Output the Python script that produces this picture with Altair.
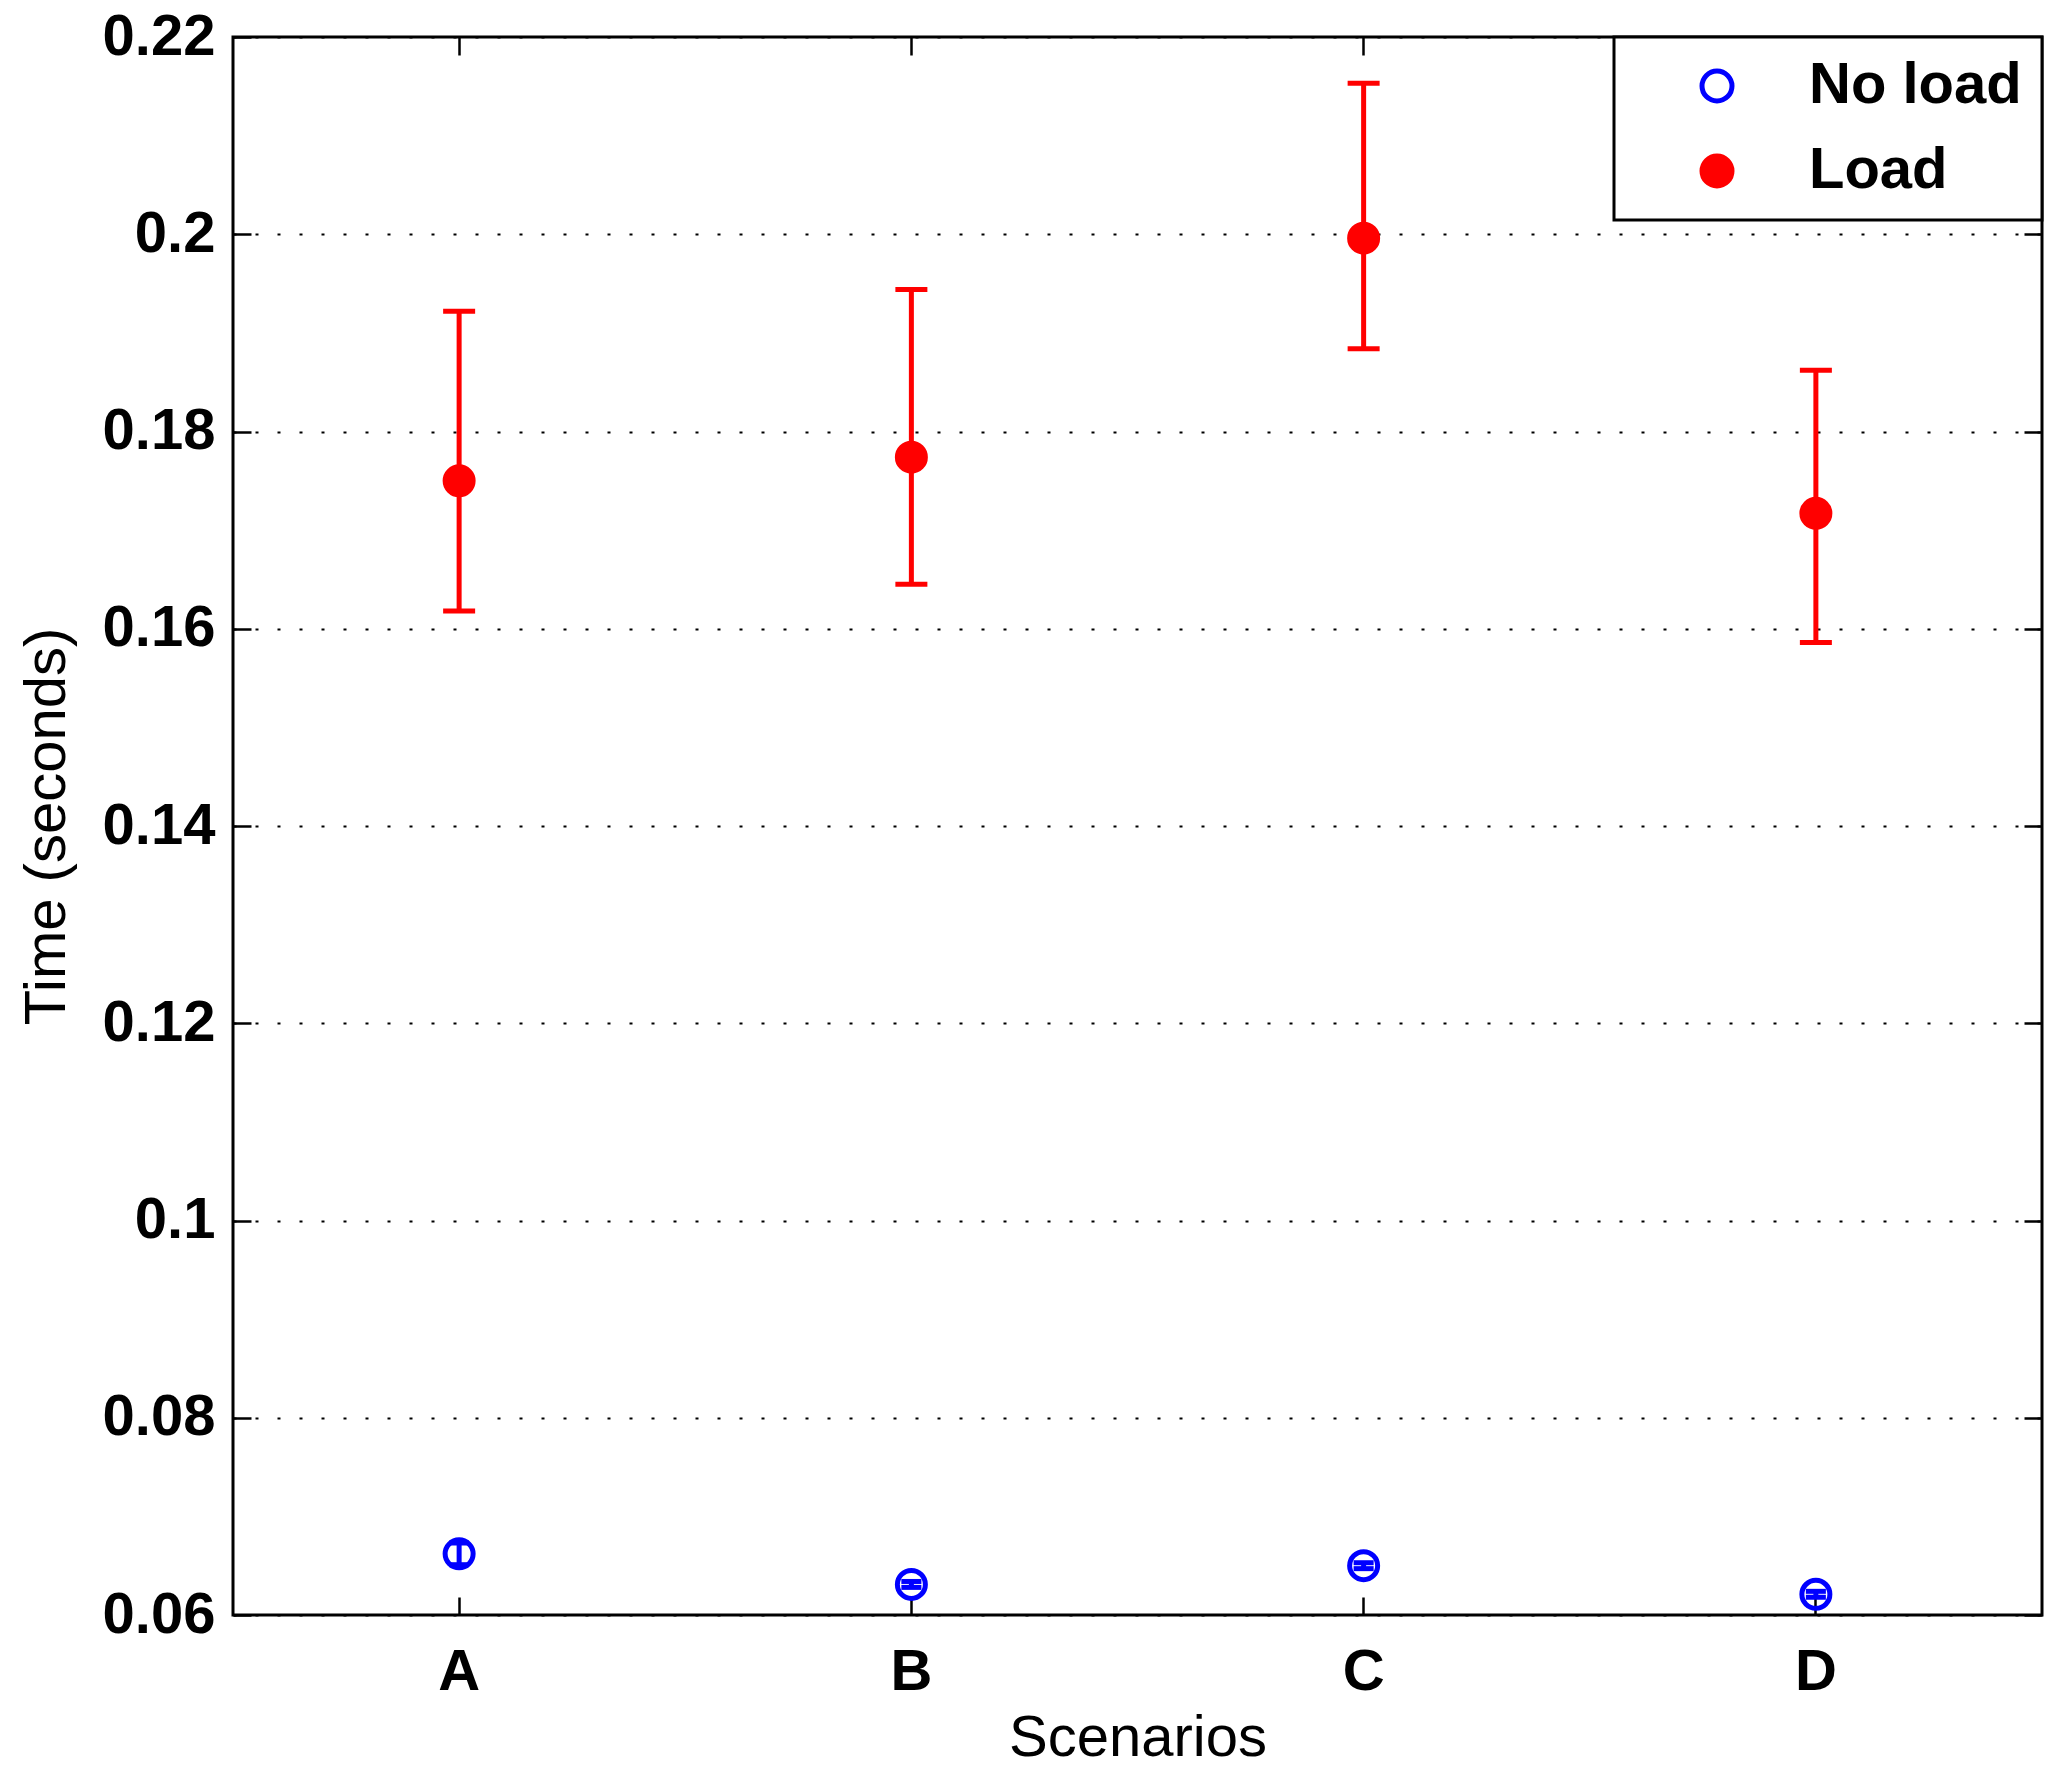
import altair as alt
import pandas as pd

scenarios = ["A", "B", "C", "D"]
conditions = ["No load", "Load"]

noload_mean = [0.0662, 0.0631, 0.0650, 0.0621]
noload_lo = [0.0651, 0.0628, 0.0647, 0.0618]
noload_hi = [0.0673, 0.0634, 0.0653, 0.0624]

load_mean = [0.1750, 0.1774, 0.1996, 0.1717]
load_lo = [0.1618, 0.1645, 0.1884, 0.1586]
load_hi = [0.1922, 0.1944, 0.2153, 0.1862]

y_ticks = [0.06, 0.08, 0.10, 0.12, 0.14, 0.16, 0.18, 0.20, 0.22]

rows = []
for i, s in enumerate(scenarios):
    rows.append({"Scenario": s, "Condition": "No load", "mean": noload_mean[i],
                 "lo": noload_lo[i], "hi": noload_hi[i]})
for i, s in enumerate(scenarios):
    rows.append({"Scenario": s, "Condition": "Load", "mean": load_mean[i],
                 "lo": load_lo[i], "hi": load_hi[i]})
df = pd.DataFrame(rows)

FONT = "Liberation Sans"
TICK = {"expr": "-18"}

xscale = alt.Scale(domain=scenarios, paddingInner=0, paddingOuter=0)
yscale = alt.Scale(domain=[0.06, 0.22], nice=False, zero=False)

main_x = alt.Axis(title="Scenarios", labelAngle=0, grid=False, domain=False,
                  tickSize=TICK, labelPadding=46, titlePadding=8)
main_y = alt.Axis(title="Time (seconds)", values=y_ticks, format=".2~f",
                  grid=True, gridDash=[3, 19], gridColor="black", gridWidth=2,
                  gridOpacity=1, domain=False, tickSize=TICK, labelPadding=36,
                  titlePadding=26)
top_x = alt.Axis(orient="top", title=None, labels=False, grid=False, domain=False,
                 tickSize=TICK)
right_y = alt.Axis(orient="right", title=None, labels=False, grid=False,
                   domain=False, values=y_ticks, tickSize=TICK)

color_range = ["#0000ff", "#ff0000"]
cscale = alt.Scale(domain=conditions, range=color_range)

base = alt.Chart(df)

rules = base.mark_rule(strokeWidth=5).encode(
    x=alt.X("Scenario:N", scale=xscale, axis=main_x),
    y=alt.Y("lo:Q", scale=yscale, axis=main_y),
    y2="hi:Q",
    color=alt.Color("Condition:N", scale=cscale, legend=None),
)

caps_lo = base.mark_tick(thickness=5, opacity=1).encode(
    x=alt.X("Scenario:N", scale=xscale, axis=top_x),
    y=alt.Y("lo:Q", scale=yscale, axis=right_y),
    color=alt.Color("Condition:N", scale=cscale, legend=None),
    size=alt.Size("Condition:N", scale=alt.Scale(domain=conditions, range=[20, 32]),
                  legend=None),
)

caps_hi = base.mark_tick(thickness=5, opacity=1).encode(
    x=alt.X("Scenario:N", scale=xscale, axis=None),
    y=alt.Y("hi:Q", scale=yscale, axis=None),
    color=alt.Color("Condition:N", scale=cscale, legend=None),
    size=alt.Size("Condition:N", scale=alt.Scale(domain=conditions, range=[20, 32]),
                  legend=None),
)

points = base.mark_point(filled=False, opacity=1, size=784, strokeWidth=5,
                         shape="circle").encode(
    x=alt.X("Scenario:N", scale=xscale, axis=None),
    y=alt.Y("mean:Q", scale=yscale, axis=None),
    color=alt.Color("Condition:N", scale=cscale,
                    legend=alt.Legend(title=None, orient="top-right", offset=0)),
    fill=alt.Fill("Condition:N",
                  scale=alt.Scale(domain=conditions, range=["transparent", "#ff0000"]),
                  legend=alt.Legend(title=None, orient="top-right", offset=0)),
)

chart = alt.layer(rules, caps_lo, caps_hi, points).resolve_axis(
    x="independent", y="independent"
).resolve_legend(
    color="independent", fill="independent", size="independent"
).properties(
    width=1809,
    height=1578,
    autosize=alt.AutoSizeParams(type="none"),
    padding={"left": 225, "top": 29, "right": 17, "bottom": 156},
    background="white",
).configure_view(
    stroke="black", strokeWidth=3
).configure_axis(
    labelFont=FONT, labelFontSize=58, labelFontWeight="bold", labelColor="black",
    titleFont=FONT, titleFontSize=58, titleFontWeight="normal", titleColor="black",
    tickColor="black", tickWidth=2.5,
).configure_legend(
    labelFont=FONT, labelFontSize=58, labelFontWeight="bold", labelColor="black",
    labelLimit=500,
    symbolSize=900, symbolStrokeWidth=5, symbolType="circle",
    padding=20, symbolOffset=54, labelOffset=63, rowPadding=27,
    strokeColor="black", strokeWidth=3, fillColor="white", cornerRadius=0,
)

chart.save("out.html", embed_options={"renderer": "svg", "actions": False})
